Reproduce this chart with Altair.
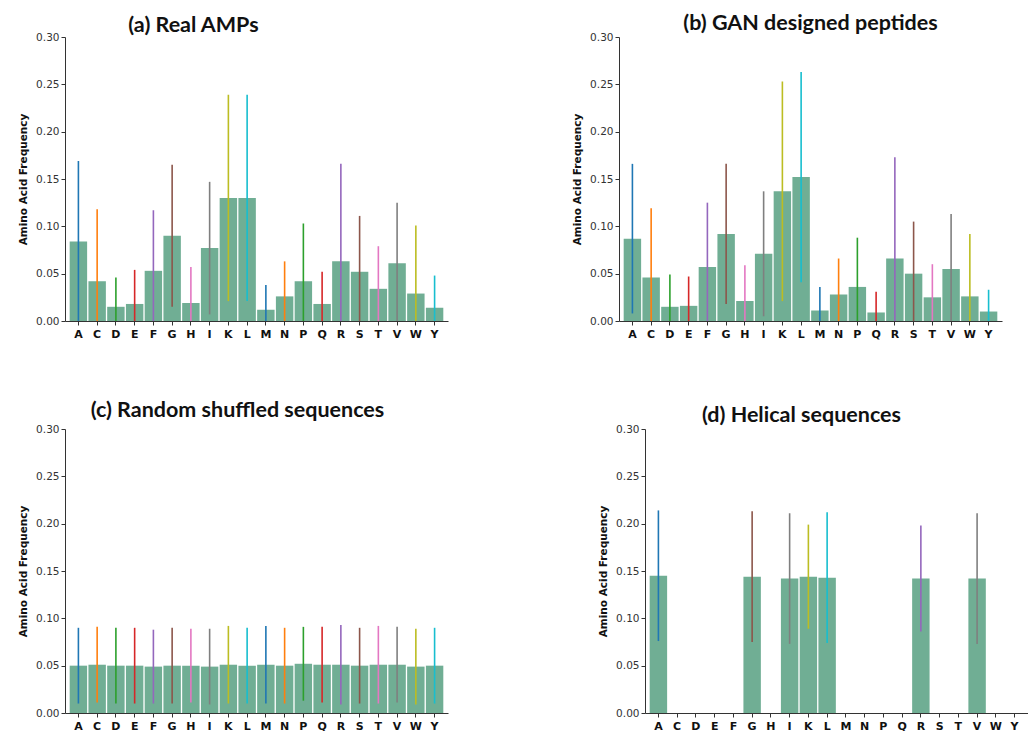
import altair as alt
import pandas as pd

letters = ["A", "C", "D", "E", "F", "G", "H", "I", "K", "L",
           "M", "N", "P", "Q", "R", "S", "T", "V", "W", "Y"]

# matplotlib tab10 cycle used for error bars
err_colors = ["#1f77b4", "#ff7f0e", "#2ca02c", "#d62728", "#9467bd",
              "#8c564b", "#e377c2", "#7f7f7f", "#bcbd22", "#17becf",
              "#1f77b4", "#ff7f0e", "#2ca02c", "#d62728", "#9467bd",
              "#8c564b", "#e377c2", "#7f7f7f", "#bcbd22", "#17becf"]

# (a) Real AMPs
real_mean = [0.084, 0.042, 0.015, 0.018, 0.053, 0.090, 0.019, 0.077, 0.130, 0.130,
             0.012, 0.026, 0.042, 0.018, 0.063, 0.052, 0.034, 0.061, 0.029, 0.014]
real_sd = [0.085, 0.076, 0.031, 0.036, 0.064, 0.075, 0.038, 0.070, 0.109, 0.109,
           0.026, 0.037, 0.061, 0.034, 0.103, 0.059, 0.045, 0.064, 0.072, 0.034]

# (b) GAN designed peptides
gan_mean = [0.087, 0.046, 0.015, 0.016, 0.057, 0.092, 0.021, 0.071, 0.137, 0.152,
            0.011, 0.028, 0.036, 0.009, 0.066, 0.050, 0.025, 0.055, 0.026, 0.010]
gan_sd = [0.079, 0.073, 0.034, 0.031, 0.068, 0.074, 0.038, 0.066, 0.116, 0.111,
          0.025, 0.038, 0.052, 0.022, 0.107, 0.055, 0.035, 0.058, 0.066, 0.023]

# (c) Random shuffled sequences
shuf_mean = [0.050, 0.051, 0.050, 0.050, 0.049, 0.050, 0.050, 0.049, 0.051, 0.050,
             0.051, 0.050, 0.052, 0.051, 0.051, 0.050, 0.051, 0.051, 0.049, 0.050]
shuf_sd = [0.040, 0.040, 0.040, 0.040, 0.039, 0.040, 0.039, 0.040, 0.041, 0.040,
           0.041, 0.040, 0.039, 0.040, 0.042, 0.040, 0.041, 0.040, 0.040, 0.040]

# (d) Helical sequences
hel_mean = [0.145, 0.0, 0.0, 0.0, 0.0, 0.144, 0.0, 0.142, 0.144, 0.143,
            0.0, 0.0, 0.0, 0.0, 0.142, 0.0, 0.0, 0.142, 0.0, 0.0]
hel_sd = [0.069, 0.0, 0.0, 0.0, 0.0, 0.069, 0.0, 0.069, 0.055, 0.069,
          0.0, 0.0, 0.0, 0.0, 0.056, 0.0, 0.0, 0.069, 0.0, 0.0]

titles = ["(a) Real AMPs", "(b) GAN designed peptides",
          "(c) Random shuffled sequences", "(d) Helical sequences"]
title_dx = [-63, 0, -19, -35]
title_off = [-4, -2, 3, -2]

BAR = "#70ae94"
W, H = 383, 284


def panel(means, sds, title, dx, off):
    df = pd.DataFrame({"aa": letters, "mean": means, "sd": sds})
    df["lo"] = (df["mean"] - df["sd"]).clip(lower=0)
    df["hi"] = df["mean"] + df["sd"]
    err = df[df["sd"] > 0]
    x = alt.X("aa:N", sort=letters,
              scale=alt.Scale(domain=letters, paddingInner=0.07, paddingOuter=0.25),
              axis=alt.Axis(title=None, labelAngle=0, labelFontWeight="bold",
                            labelColor="#111", labelFont="DejaVu Sans",
                            labelFontSize=11, tickSize=4, tickColor="#333",
                            domainColor="#333", labelPadding=3))
    yscale = alt.Scale(domain=[0, 0.3], nice=False)
    bars = alt.Chart(df).mark_bar(color=BAR).encode(
        x=x,
        y=alt.Y("mean:Q", scale=yscale,
                axis=alt.Axis(title="Amino Acid Frequency", values=[0, 0.05, 0.1, 0.15, 0.2, 0.25, 0.3],
                              format=".2f", grid=False, domainColor="#333", tickColor="#333",
                              tickSize=4, labelFont="DejaVu Sans", labelFontSize=10.5,
                              labelColor="#333", titleFont="DejaVu Sans", titleFontSize=10.5,
                              titleFontWeight="bold", titleColor="#111", titlePadding=7)),
    )
    rules = alt.Chart(err).mark_rule(strokeWidth=1.6).encode(
        x=alt.X("aa:N", sort=letters),
        y=alt.Y("lo:Q", scale=yscale),
        y2="hi:Q",
        color=alt.Color("aa:N", scale=alt.Scale(domain=letters, range=err_colors), legend=None),
    )
    return alt.layer(bars, rules).properties(
        width=W, height=H,
        title=alt.TitleParams(title, font="Lato", fontSize=21.5, fontWeight="bold",
                              color="#111", anchor="middle", dx=dx, offset=off),
    )


pa = panel(real_mean, real_sd, titles[0], title_dx[0], title_off[0])
pb = panel(gan_mean, gan_sd, titles[1], title_dx[1], title_off[1])
pc = panel(shuf_mean, shuf_sd, titles[2], title_dx[2], title_off[2])
pd_ = panel(hel_mean, hel_sd, titles[3], title_dx[3], title_off[3])

row1 = alt.hconcat(pa, pb, spacing=124)
row2 = alt.hconcat(pc, pd_, spacing=150)

chart = alt.vconcat(row1, row2, spacing=60).configure_view(stroke=None).properties(
    padding={"left": 18, "top": 12, "right": 0, "bottom": 0}
)

chart.save("out.html", embed_options={"renderer": "svg", "actions": False})
